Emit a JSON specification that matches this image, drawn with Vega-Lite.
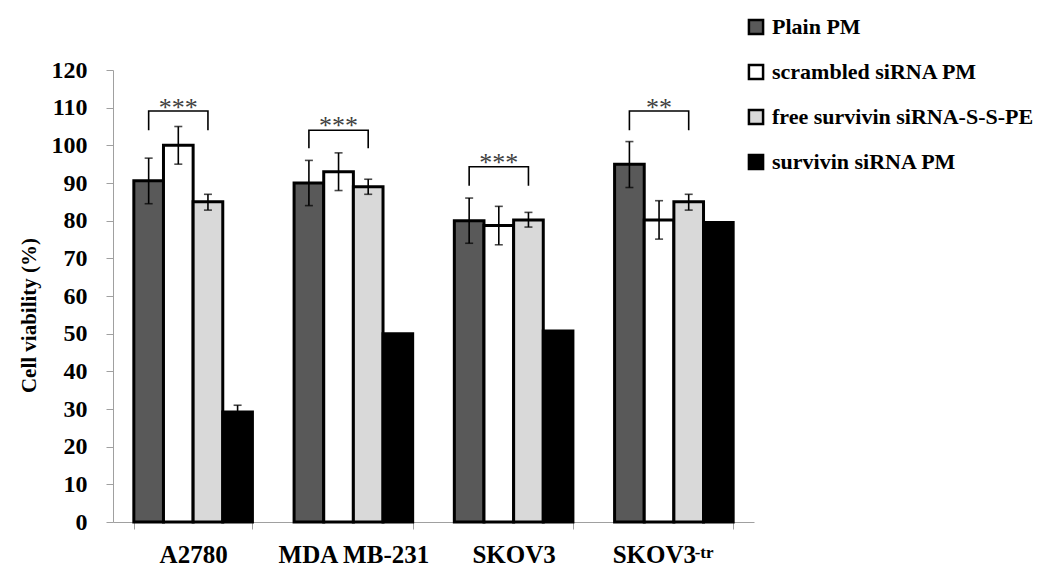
{
  "$schema": "https://vega.github.io/schema/vega-lite/v6.json",
  "width": 641,
  "height": 452,
  "autosize": {"type": "none"},
  "padding": {"left": 113, "top": 70, "right": 296, "bottom": 57},
  "background": "white",
  "config": {
    "view": {"stroke": null},
    "font": "Liberation Serif",
    "axisY": {
      "tickCount": 12,
      "labelOverlap": false,
      "titleFont": "Liberation Serif",
      "titleFontSize": 21,
      "titleFontWeight": "bold",
      "titleColor": "black",
      "titleX": -84,
      "titleY": 245,
      "titleAlign": "center",
      "titleBaseline": "middle",
      "titleAngle": -90,
      "labelFont": "Liberation Serif",
      "labelFontSize": 24,
      "labelFontWeight": "bold",
      "labelColor": "black",
      "labelPadding": 19,
      "domainColor": "#a0a0a0",
      "tickColor": "#a0a0a0",
      "tickSize": 7,
      "grid": false
    }
  },
  "datasets": {
    "bars": [
      {"group": "A2780", "series": "Plain PM", "value": 90.6, "lo": 84.5, "hi": 96.6},
      {"group": "A2780", "series": "scrambled siRNA PM", "value": 100, "lo": 95, "hi": 105},
      {"group": "A2780", "series": "free survivin siRNA-S-S-PE", "value": 85, "lo": 82.8, "hi": 87},
      {"group": "A2780", "series": "survivin siRNA PM", "value": 29.2, "lo": 27.4, "hi": 31},
      {"group": "MDA MB-231", "series": "Plain PM", "value": 90, "lo": 84, "hi": 96},
      {"group": "MDA MB-231", "series": "scrambled siRNA PM", "value": 93, "lo": 88, "hi": 98},
      {"group": "MDA MB-231", "series": "free survivin siRNA-S-S-PE", "value": 89, "lo": 87, "hi": 91},
      {"group": "MDA MB-231", "series": "survivin siRNA PM", "value": 50, "lo": null, "hi": null},
      {"group": "SKOV3", "series": "Plain PM", "value": 80, "lo": 74, "hi": 86},
      {"group": "SKOV3", "series": "scrambled siRNA PM", "value": 78.7, "lo": 73.6, "hi": 83.8},
      {"group": "SKOV3", "series": "free survivin siRNA-S-S-PE", "value": 80.2, "lo": 78.3, "hi": 82.2},
      {"group": "SKOV3", "series": "survivin siRNA PM", "value": 50.7, "lo": null, "hi": null},
      {"group": "SKOV3-tr", "series": "Plain PM", "value": 95, "lo": 88.8, "hi": 101},
      {"group": "SKOV3-tr", "series": "scrambled siRNA PM", "value": 80.2, "lo": 75.1, "hi": 85.3},
      {"group": "SKOV3-tr", "series": "free survivin siRNA-S-S-PE", "value": 85, "lo": 82.8, "hi": 87},
      {"group": "SKOV3-tr", "series": "survivin siRNA PM", "value": 79.5, "lo": null, "hi": null}
    ],
    "brackets": [
      {"group": "A2780", "series": "Plain PM", "y": 104, "ord": 1},
      {"group": "A2780", "series": "Plain PM", "y": 109.1, "ord": 2},
      {"group": "A2780", "series": "free survivin siRNA-S-S-PE", "y": 109.1, "ord": 3},
      {"group": "A2780", "series": "free survivin siRNA-S-S-PE", "y": 104, "ord": 4},
      {"group": "MDA MB-231", "series": "Plain PM", "y": 99.2, "ord": 1},
      {"group": "MDA MB-231", "series": "Plain PM", "y": 104, "ord": 2},
      {"group": "MDA MB-231", "series": "free survivin siRNA-S-S-PE", "y": 104, "ord": 3},
      {"group": "MDA MB-231", "series": "free survivin siRNA-S-S-PE", "y": 99.2, "ord": 4},
      {"group": "SKOV3", "series": "Plain PM", "y": 89.3, "ord": 1},
      {"group": "SKOV3", "series": "Plain PM", "y": 94.3, "ord": 2},
      {"group": "SKOV3", "series": "free survivin siRNA-S-S-PE", "y": 94.3, "ord": 3},
      {"group": "SKOV3", "series": "free survivin siRNA-S-S-PE", "y": 89.3, "ord": 4},
      {"group": "SKOV3-tr", "series": "Plain PM", "y": 104, "ord": 1},
      {"group": "SKOV3-tr", "series": "Plain PM", "y": 109.1, "ord": 2},
      {"group": "SKOV3-tr", "series": "free survivin siRNA-S-S-PE", "y": 109.1, "ord": 3},
      {"group": "SKOV3-tr", "series": "free survivin siRNA-S-S-PE", "y": 104, "ord": 4}
    ],
    "stars": [
      {"group": "A2780", "series": "scrambled siRNA PM", "y": 110, "label": "***"},
      {"group": "MDA MB-231", "series": "scrambled siRNA PM", "y": 105.2, "label": "***"},
      {"group": "SKOV3", "series": "scrambled siRNA PM", "y": 95.4, "label": "***"},
      {"group": "SKOV3-tr", "series": "scrambled siRNA PM", "y": 110, "label": "**"}
    ],
    "suffix": [
      {"group": "SKOV3-tr", "series": "free survivin siRNA-S-S-PE", "y": 0, "label": "-tr"}
    ]
  },
  "encoding": {
    "x": {
      "field": "group",
      "type": "nominal",
      "sort": ["A2780", "MDA MB-231", "SKOV3", "SKOV3-tr"],
      "scale": {"domain": ["A2780", "MDA MB-231", "SKOV3", "SKOV3-tr"], "paddingInner": 0.26, "paddingOuter": 0.13},
      "axis": {
        "title": null,
        "labelAngle": 0,
        "labelExpr": "datum.value == 'SKOV3-tr' ? 'SKOV3' : datum.value",
        "labelOffset": {"condition": {"test": "datum.value == 'SKOV3-tr'", "value": -20}, "value": 0},
        "labelFont": "Liberation Serif",
        "labelFontSize": 25,
        "labelFontWeight": "bold",
        "labelColor": "black",
        "labelPadding": 13,
        "domainColor": "#a0a0a0",
        "domainWidth": 1,
        "tickColor": "#a0a0a0",
        "tickSize": 7,
        "tickBand": "extent",
        "grid": false
      }
    },
    "xOffset": {
      "field": "series",
      "type": "nominal",
      "scale": {"domain": ["Plain PM", "scrambled siRNA PM", "free survivin siRNA-S-S-PE", "survivin siRNA PM"]}
    }
  },
  "layer": [
    {
      "data": {"name": "bars"},
      "mark": {"type": "bar", "stroke": "black", "strokeWidth": 3},
      "encoding": {
        "y": {
          "field": "value",
          "type": "quantitative",
          "scale": {"domain": [0, 120], "nice": false},
          "axis": {"title": "Cell viability (%)"}
        },
        "fill": {
          "field": "series",
          "type": "nominal",
          "scale": {
            "domain": ["Plain PM", "scrambled siRNA PM", "free survivin siRNA-S-S-PE", "survivin siRNA PM"],
            "range": ["#595959", "#ffffff", "#d9d9d9", "#000000"]
          },
          "legend": {
            "orient": "none",
            "legendX": 632,
            "legendY": -54,
            "title": null,
            "labelFont": "Liberation Serif",
            "labelFontSize": 22,
            "labelFontWeight": "bold",
            "labelColor": "black",
            "labelLimit": 400,
            "symbolType": "square",
            "symbolSize": 200,
            "symbolStrokeColor": "black",
            "symbolStrokeWidth": 2.5,
            "rowPadding": 19,
            "labelOffset": 5
          }
        }
      }
    },
    {
      "data": {"name": "bars"},
      "transform": [{"filter": "isValid(datum.lo)"}],
      "mark": {"type": "rule", "color": "black", "strokeWidth": 1.6},
      "encoding": {
        "y": {"field": "lo", "type": "quantitative", "axis": {"title": "Cell viability (%)"}},
        "y2": {"field": "hi"}
      }
    },
    {
      "data": {"name": "bars"},
      "transform": [{"filter": "isValid(datum.lo)"}],
      "mark": {"type": "tick", "color": "black", "thickness": 1.6, "size": 8},
      "encoding": {"y": {"field": "lo", "type": "quantitative", "axis": {"title": "Cell viability (%)"}}}
    },
    {
      "data": {"name": "bars"},
      "transform": [{"filter": "isValid(datum.hi)"}],
      "mark": {"type": "tick", "color": "black", "thickness": 1.6, "size": 8},
      "encoding": {"y": {"field": "hi", "type": "quantitative", "axis": {"title": "Cell viability (%)"}}}
    },
    {
      "data": {"name": "brackets"},
      "mark": {"type": "line", "color": "black", "strokeWidth": 1.6, "interpolate": "linear"},
      "encoding": {
        "y": {"field": "y", "type": "quantitative", "axis": {"title": "Cell viability (%)"}},
        "detail": {"field": "group"},
        "order": {"field": "ord", "type": "quantitative"}
      }
    },
    {
      "data": {"name": "stars"},
      "mark": {"type": "text", "font": "Liberation Serif", "fontSize": 26, "color": "#404040", "baseline": "middle", "align": "center"},
      "encoding": {
        "y": {"field": "y", "type": "quantitative", "axis": {"title": "Cell viability (%)"}},
        "text": {"field": "label"}
      }
    },
    {
      "data": {"name": "suffix"},
      "mark": {"type": "text", "font": "Liberation Serif", "fontSize": 17, "fontWeight": "bold", "color": "black", "baseline": "alphabetic", "align": "left", "dx": 6, "dy": 36},
      "encoding": {
        "y": {"field": "y", "type": "quantitative", "axis": {"title": "Cell viability (%)"}},
        "text": {"field": "label"}
      }
    }
  ]
}
